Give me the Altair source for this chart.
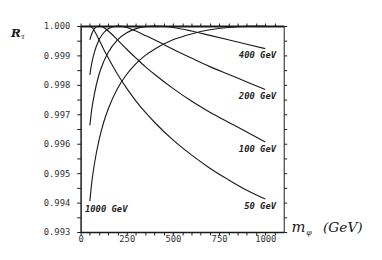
import altair as alt
import pandas as pd

# m_phi grid (GeV)
masses = [50, 60, 75, 100, 125, 150, 200, 250, 300, 350, 400, 500, 600, 700, 800, 900, 1000]

# R_tau for each curve
r50 = [1.00000, 0.99996, 0.99983, 0.99953, 0.99921, 0.99891, 0.99836, 0.99788, 0.99745,
       0.99707, 0.99673, 0.99613, 0.99562, 0.99517, 0.99478, 0.99442, 0.99412]
r100 = [0.99953, 0.99973, 0.99991, 1.00000, 0.99995, 0.99983, 0.99953, 0.99921, 0.99891,
        0.99862, 0.99836, 0.99788, 0.99745, 0.99707, 0.99673, 0.99640, 0.99606]
r200 = [0.99834, 0.99872, 0.99911, 0.99953, 0.99977, 0.99991, 1.00000, 0.99995, 0.99983,
        0.99968, 0.99953, 0.99921, 0.99891, 0.99862, 0.99836, 0.99810, 0.99784]
r400 = [0.99662, 0.99715, 0.99770, 0.99836, 0.99879, 0.99911, 0.99953, 0.99977, 0.99991,
        0.99998, 1.00000, 0.99995, 0.99983, 0.99968, 0.99953, 0.99938, 0.99923]
r1000 = [0.99405, 0.99466, 0.99532, 0.99613, 0.99673, 0.99719, 0.99788, 0.99836, 0.99872,
         0.99900, 0.99921, 0.99953, 0.99973, 0.99987, 0.99995, 0.99999, 1.00000]

series_names = ["50", "100", "200", "400", "1000"]
series_values = [r50, r100, r200, r400, r1000]
label_texts = ["50  GeV", "100  GeV", "200  GeV", "400  GeV", "1000  GeV"]

x_ticks = [0, 50, 100, 150, 200, 250, 300, 350, 400, 450, 500, 550, 600, 650, 700, 750,
           800, 850, 900, 950, 1000, 1050]
y_ticks = [0.993, 0.9935, 0.994, 0.9945, 0.995, 0.9955, 0.996, 0.9965, 0.997, 0.9975,
           0.998, 0.9985, 0.999, 0.9995, 1.0]

rows = []
for name, vals in zip(series_names, series_values):
    for m, v in zip(masses, vals):
        rows.append({"M": name, "m": m, "R": v})
df = pd.DataFrame(rows)

# curve labels: right-end for the falling curves, left start for 1000 GeV
lab_right = pd.DataFrame({
    "m": [masses[-1]] * 4,
    "R": [r50[-1], r100[-1], r200[-1], r400[-1]],
    "t": label_texts[:4],
})
lab_left = pd.DataFrame({"m": [masses[0]], "R": [r1000[0]], "t": [label_texts[4]]})

xs = alt.Scale(domain=[0, 1100], nice=False, zero=False)
ys = alt.Scale(domain=[0.993, 1.0], nice=False, zero=False)

ink = "#1a1a1a"
num_font = "DejaVu Sans Mono"

x_bottom = alt.Axis(orient="bottom", values=x_ticks, title=None, grid=False,
                    labelExpr="datum.value % 250 == 0 ? format(datum.value, 'd') : ''",
                    tickSize=3, tickColor=ink, domainColor=ink, domainWidth=1.5,
                    labelFont=num_font, labelFontSize=9, labelColor="#333",
                    labelPadding=0, labelFlush=False, labelOverlap=False)
y_left = alt.Axis(orient="left", values=y_ticks, title=None, grid=False,
                  labelExpr="round(datum.value * 10000) % 10 == 0 ? format(datum.value, '.3f') : ''",
                  tickSize=4, tickColor=ink, domainColor=ink, domainWidth=1.5,
                  labelFont=num_font, labelFontSize=9, labelColor="#333",
                  labelPadding=7, labelFlush=False, labelOverlap=False)
x_top = alt.Axis(orient="top", values=x_ticks, title=None, grid=False, labels=False,
                 tickSize=3, tickColor=ink, domainColor=ink, domainWidth=2)
y_right = alt.Axis(orient="right", values=y_ticks, title=None, grid=False, labels=False,
                   tickSize=3, tickColor=ink, domainColor=ink, domainWidth=1)

lines = alt.Chart(df).mark_line(color=ink, strokeWidth=1.15, interpolate="monotone").encode(
    x=alt.X("m:Q", scale=xs, axis=x_bottom),
    y=alt.Y("R:Q", scale=ys, axis=y_left),
    detail="M:N",
)

frame = alt.Chart(df).mark_point(opacity=0).encode(
    x=alt.X("m:Q", scale=xs, axis=x_top),
    y=alt.Y("R:Q", scale=ys, axis=y_right),
)

lab_style = dict(font=num_font, fontSize=9, fontStyle="italic", fontWeight="bold",
                 color="#222", baseline="middle")
labels_r = alt.Chart(lab_right).mark_text(align="right", dx=11, dy=7, **lab_style).encode(
    x=alt.X("m:Q", scale=xs, axis=None), y=alt.Y("R:Q", scale=ys, axis=None), text="t:N")
labels_l = alt.Chart(lab_left).mark_text(align="left", dx=-5, dy=8, **lab_style).encode(
    x=alt.X("m:Q", scale=xs, axis=None), y=alt.Y("R:Q", scale=ys, axis=None), text="t:N")

serif = "DejaVu Serif"
t_R = alt.Chart(lab_left).mark_text(text="R", font=serif, fontStyle="italic", fontWeight="bold",
                                    fontSize=12, align="left", baseline="alphabetic",
                                    color=ink).encode(x=alt.value(-71), y=alt.value(11))
t_tau = alt.Chart(lab_left).mark_text(text="τ", font=serif, fontStyle="italic",
                                      fontSize=8, align="left", baseline="alphabetic",
                                      color=ink).encode(x=alt.value(-61), y=alt.value(13))
t_m = alt.Chart(lab_left).mark_text(text="m", font=serif, fontStyle="italic",
                                    fontSize=15, align="left", baseline="alphabetic",
                                    color=ink).encode(x=alt.value(215), y=alt.value(210))
t_phi = alt.Chart(lab_left).mark_text(text="φ", font=serif, fontStyle="italic",
                                      fontSize=8, align="left", baseline="alphabetic",
                                      color=ink).encode(x=alt.value(230), y=alt.value(213))
t_gev = alt.Chart(lab_left).mark_text(text="(GeV)", font=serif, fontStyle="italic",
                                      fontSize=14, align="left", baseline="alphabetic",
                                      color=ink).encode(x=alt.value(247), y=alt.value(210))

chart = alt.layer(lines, frame, labels_r, labels_l, t_R, t_tau, t_m, t_phi, t_gev).resolve_axis(
    x="independent", y="independent"
).properties(
    width=207, height=210,
    autosize=alt.AutoSizeParams(type="none"),
    padding={"left": 74, "top": 16, "right": 92, "bottom": 18},
    background="white",
).configure_view(stroke=None)

chart.save("out.html", embed_options={"renderer": "svg", "actions": False})
